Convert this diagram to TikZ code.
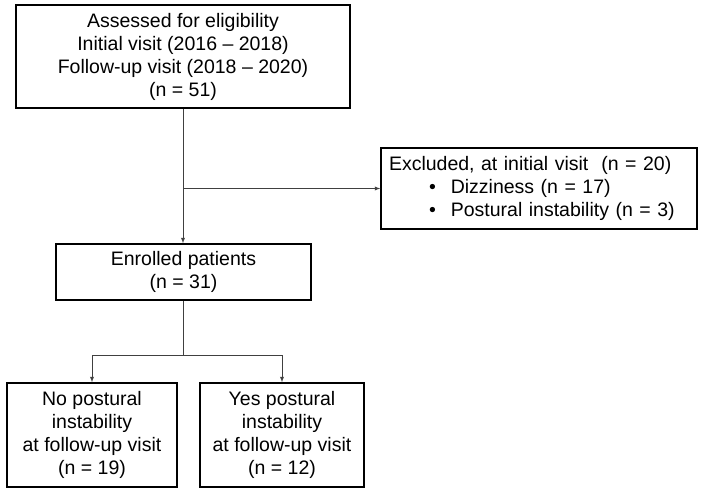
\documentclass[tikz,border=0pt]{standalone}
\usepackage{fontspec}
\setmainfont{Liberation Sans}
\usetikzlibrary{arrows}

\begin{document}
\begin{tikzpicture}[
  x = 1pt, y = -1pt,
  > = latex,
  font = \fontsize{19.5}{23}\selectfont
  ]

  \tikzstyle{every box}=[
  draw = black,
  line width = 1.4pt,
  fill = white,
  align = center,
  inner sep = 0pt
  ]
  \tikzstyle{flow}=[draw = black!75, line width = 0.9pt]

  \useasboundingbox (0,0) rectangle (703,497);

  \node[every box, minimum width = 334pt, minimum height = 103pt] (assessed) at (183,56.5)
    {Assessed for eligibility\\ Initial visit (2016 -- 2018)\\ Follow-up visit (2018 -- 2020)\\ (n = 51)};
  \node[every box, minimum height = 81pt, text width = 300pt, inner xsep = 8pt, align = left] (excluded) at (539,188.5)
    {Excluded, at initial visit\ \ (n = 20)\\
     \hspace*{40pt}\textbullet\hspace{15pt}Dizziness (n = 17)\\
     \hspace*{40pt}\textbullet\hspace{15pt}Postural instability (n = 3)};
  \node[every box, minimum width = 255pt, minimum height = 56pt] (enrolled) at (183.5,272)
    {Enrolled patients\\ (n = 31)};
  \node[every box, minimum width = 170pt, minimum height = 104pt] (nopi) at (92,435)
    {No postural\\ instability\\ at follow-up visit\\ (n = 19)};
  \node[every box, minimum width = 164pt, minimum height = 104pt] (yespi) at (282,435)
    {Yes postural\\ instability\\ at follow-up visit\\ (n = 12)};

  \coordinate (split1) at (assessed.south |- excluded.west);
  \coordinate (split2) at (183.5,355);

  \path[flow, ->] (assessed.south) -- (assessed.south |- enrolled.north);
  \path[flow, ->] (split1) -- (excluded.west);
  \path[flow] (enrolled.south) -- (split2);
  \path[flow, ->] (split2) -| (nopi.north);
  \path[flow, ->] (split2) -| (yespi.north);

\end{tikzpicture}
\end{document}
